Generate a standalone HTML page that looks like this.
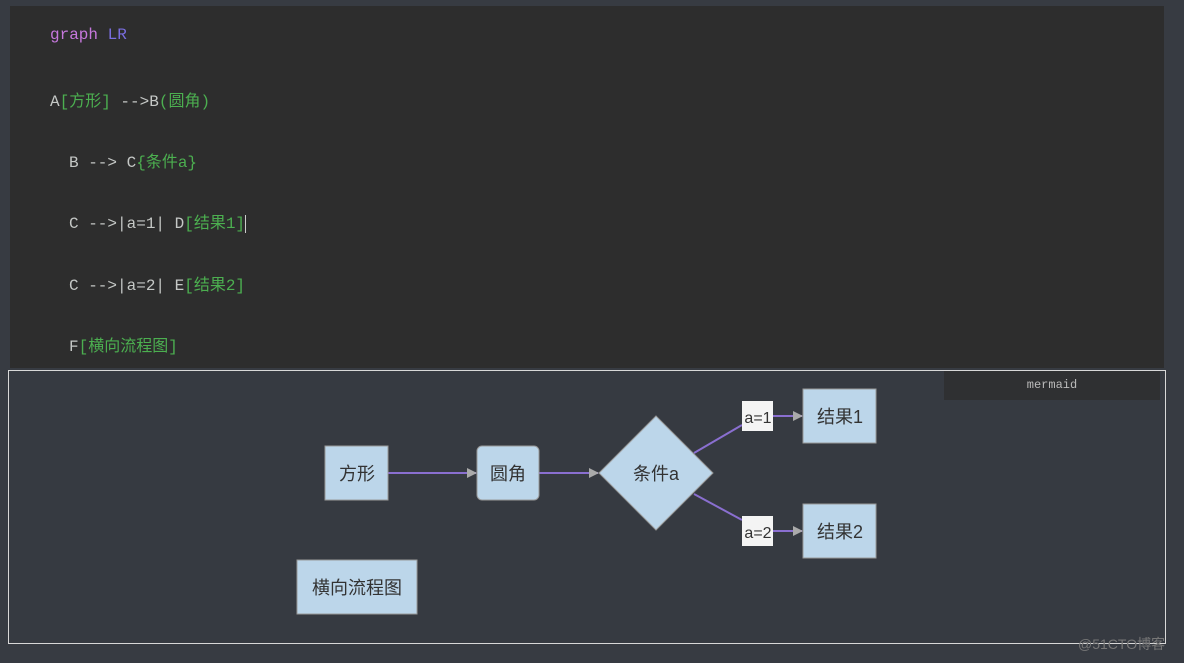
<!DOCTYPE html>
<html><head><meta charset="utf-8"><style>
body{margin:0;width:1184px;height:663px;background:#373b42;overflow:hidden;position:relative;font-family:"Liberation Sans","Noto Sans CJK SC",sans-serif}
.code{position:absolute;left:10px;top:6px;width:1154px;height:362px;background:#2d2d2d}
.l{position:absolute;font-family:"Liberation Mono","Noto Sans CJK SC",monospace;font-size:16px;color:#c5c8c6;white-space:pre}
.g{color:#4caf50}.p{color:#c678dd}.b{color:#7a6ee0}
.box{position:absolute;left:8px;top:370px;width:1156px;height:272px;border:1px solid #d8d8d8;background:#363a41}
.mer{position:absolute;left:944px;top:371px;width:216px;height:29px;background:#2f3032;color:#bbb;font-family:"Liberation Mono",monospace;font-size:12px;text-align:center;line-height:29px}
.wm{position:absolute;left:1078px;top:634px;color:#777;font-size:14px}
</style></head><body>
<div class="code"></div>
<div class="l" style="left:50px;top:26px"><span class="p">graph</span> <span class="b">LR</span></div>
<div class="l" style="left:50px;top:87px">A<span class="g">[方形]</span> -->B<span class="g">(圆角)</span></div>
<div class="l" style="left:69px;top:148px">B --> C<span class="g">{条件a}</span></div>
<div class="l" style="left:69px;top:209px">C -->|a=1| D<span class="g">[结果1]</span><span style="border-left:1px solid #ccc"></span></div>
<div class="l" style="left:69px;top:271px">C -->|a=2| E<span class="g">[结果2]</span></div>
<div class="l" style="left:69px;top:332px">F<span class="g">[横向流程图]</span></div>
<div class="box"></div>
<div class="mer">mermaid</div>
<svg width="1184" height="663" style="position:absolute;left:0;top:0" font-family="Liberation Sans,Noto Sans CJK SC,sans-serif">
<defs><marker id="a" markerWidth="10" markerHeight="10" refX="9" refY="5" orient="auto" markerUnits="userSpaceOnUse"><path d="M0,0L10,5L0,10z" fill="#aaa"/></marker></defs>
<g stroke="#8a6fd0" stroke-width="2" fill="none">
<line x1="388" y1="473" x2="476" y2="473" marker-end="url(#a)"/>
<line x1="539" y1="473" x2="598" y2="473" marker-end="url(#a)"/>
<line x1="694" y1="453" x2="742" y2="425"/>
<line x1="694" y1="494" x2="742" y2="520"/>
<line x1="773" y1="416" x2="802" y2="416" marker-end="url(#a)"/>
<line x1="773" y1="531" x2="802" y2="531" marker-end="url(#a)"/>
</g>
<g fill="#bcd6ea" stroke="#999" stroke-width="1">
<rect x="325" y="446" width="63" height="54"/>
<rect x="477" y="446" width="62" height="54" rx="5"/>
<polygon points="656,416 713,473 656,530 599,473"/>
<rect x="803" y="389" width="73" height="54"/>
<rect x="803" y="504" width="73" height="54"/>
<rect x="297" y="560" width="120" height="54"/>
</g>
<rect x="742" y="401" width="31" height="30" fill="#f4f4f4"/>
<rect x="742" y="516" width="31" height="30" fill="#f4f4f4"/>
<g fill="#333" font-size="18" text-anchor="middle">
<text x="357" y="480">方形</text>
<text x="508" y="480">圆角</text>
<text x="656" y="480">条件a</text>
<text x="840" y="423">结果1</text>
<text x="840" y="538">结果2</text>
<text x="357" y="594">横向流程图</text>
<text x="758" y="423" font-size="16">a=1</text>
<text x="758" y="538" font-size="16">a=2</text>
</g>
</svg>
<div class="wm">@51CTO博客</div>
</body></html>
